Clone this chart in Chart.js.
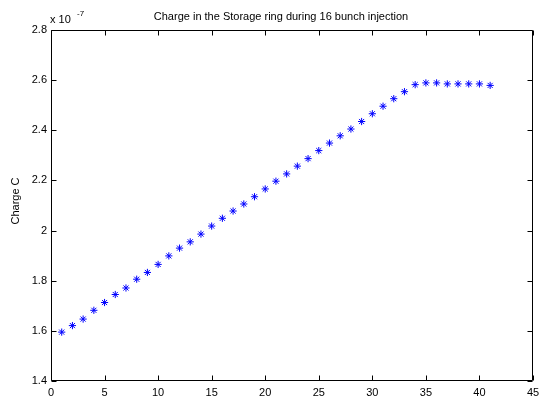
<!DOCTYPE html>
<html>
<head>
<meta charset="utf-8">
<script src="https://cdn.jsdelivr.net/npm/chart.js@4/dist/chart.umd.min.js"></script>
<style>
  html, body { margin: 0; padding: 0; background: #fff; overflow: hidden; }
  canvas { display: block; }
</style>
</head>
<body>
<canvas id="chargeChart" width="540" height="399"></canvas>
<script>
// injection number
const injections = [1, 2, 3, 4, 5, 6, 7, 8, 9, 10, 11, 12, 13, 14, 15, 16, 17, 18, 19, 20,
  21, 22, 23, 24, 25, 26, 27, 28, 29, 30, 31, 32, 33, 34, 35, 36, 37, 38, 39, 40, 41];
// charge, in units of 1e-7 C
const charge = [1.595, 1.621, 1.647, 1.682, 1.713, 1.745, 1.771, 1.806, 1.833, 1.865,
  1.899, 1.930, 1.955, 1.986, 2.018, 2.049, 2.078, 2.106, 2.135, 2.166,
  2.197, 2.226, 2.257, 2.287, 2.319, 2.349, 2.378, 2.405, 2.435, 2.466,
  2.496, 2.526, 2.554, 2.582, 2.589, 2.589, 2.585, 2.585, 2.585, 2.585, 2.579];
const xTicks = [0, 5, 10, 15, 20, 25, 30, 35, 40, 45];
const yTicks = [1.4, 1.6, 1.8, 2, 2.2, 2.4, 2.6, 2.8];

const titleText = 'Charge in the Storage ring during 16 bunch injection';
const yLabel = 'Charge C';
const FONT = '"Liberation Sans", Arial, Helvetica, sans-serif';

const punti = injections.map((x, i) => ({ x: x, y: charge[i] }));

// box, inward ticks on all four sides, title and exponent
const matlabAxes = {
  id: 'matlabAxes',
  afterDraw(chart) {
    const ctx = chart.ctx;
    const a = chart.chartArea;
    const sx = chart.scales.x;
    const sy = chart.scales.y;
    const tl = 5;
    const L = Math.round(a.left) + 0.5, R = Math.round(a.right) - 0.5;
    const T = Math.round(a.top) + 0.5, B = Math.round(a.bottom) - 0.5;
    ctx.save();
    ctx.strokeStyle = '#000';
    ctx.lineWidth = 1;
    ctx.beginPath();
    ctx.moveTo(L, T); ctx.lineTo(R, T); ctx.lineTo(R, B); ctx.lineTo(L, B); ctx.closePath();
    xTicks.forEach(v => {
      const px = Math.round(sx.getPixelForValue(v)) + 0.5;
      ctx.moveTo(px, B); ctx.lineTo(px, B - tl);
      ctx.moveTo(px, T); ctx.lineTo(px, T + tl);
    });
    yTicks.forEach(v => {
      const py = Math.round(sy.getPixelForValue(v)) + 0.5;
      ctx.moveTo(L, py); ctx.lineTo(L + tl, py);
      ctx.moveTo(R, py); ctx.lineTo(R - tl, py);
    });
    ctx.stroke();

    ctx.fillStyle = '#000';
    ctx.font = '11px ' + FONT;
    ctx.textAlign = 'center';
    ctx.textBaseline = 'alphabetic';
    ctx.fillText(titleText, 281, 20);

    ctx.textAlign = 'left';
    ctx.fillText('x 10', 50, 23);
    ctx.font = '8px ' + FONT;
    ctx.fillText('-7', 77, 16);

    ctx.font = '11px ' + FONT;
    ctx.translate(19, 201);
    ctx.rotate(-Math.PI / 2);
    ctx.textAlign = 'center';
    ctx.fillText(yLabel, 0, 0);
    ctx.restore();
  }
};

const ctxCharge = document.getElementById('chargeChart').getContext('2d');

const chartCharge = new Chart(ctxCharge, {
  type: 'scatter',
  data: {
    datasets: [{
      label: 'Charge',
      data: punti,
      pointStyle: 'star',
      pointRadius: 3.6,
      borderColor: '#0000ff',
      backgroundColor: '#0000ff',
      borderWidth: 1
    }]
  },
  options: {
    responsive: false,
    animation: false,
    devicePixelRatio: 1,
    layout: { padding: { left: 0, top: 30, right: 7, bottom: 0 } },
    plugins: {
      legend: { display: false },
      title: { display: false },
      tooltip: { enabled: false }
    },
    scales: {
      x: {
        type: 'linear',
        min: 0,
        max: 45,
        grid: { display: false, drawTicks: false, tickLength: 0 },
        border: { display: false },
        afterFit: s => { s.height = 18; s.paddingLeft = 0; s.paddingRight = 0; },
        afterBuildTicks: s => { s.ticks = xTicks.map(v => ({ value: v })); },
        ticks: {
          color: '#000',
          padding: 5,
          maxRotation: 0,
          font: { family: FONT, size: 11 },
          callback: v => String(v)
        }
      },
      y: {
        type: 'linear',
        min: 1.4,
        max: 2.8,
        grid: { display: false, drawTicks: false, tickLength: 0 },
        border: { display: false },
        afterFit: s => { s.width = 51; s.paddingTop = 0; s.paddingBottom = 0; },
        afterBuildTicks: s => { s.ticks = yTicks.map(v => ({ value: v })); },
        ticks: {
          color: '#000',
          padding: 4,
          font: { family: FONT, size: 11 },
          callback: v => String(+Number(v).toFixed(1))
        }
      }
    }
  },
  plugins: [matlabAxes]
});
</script>
</body>
</html>
